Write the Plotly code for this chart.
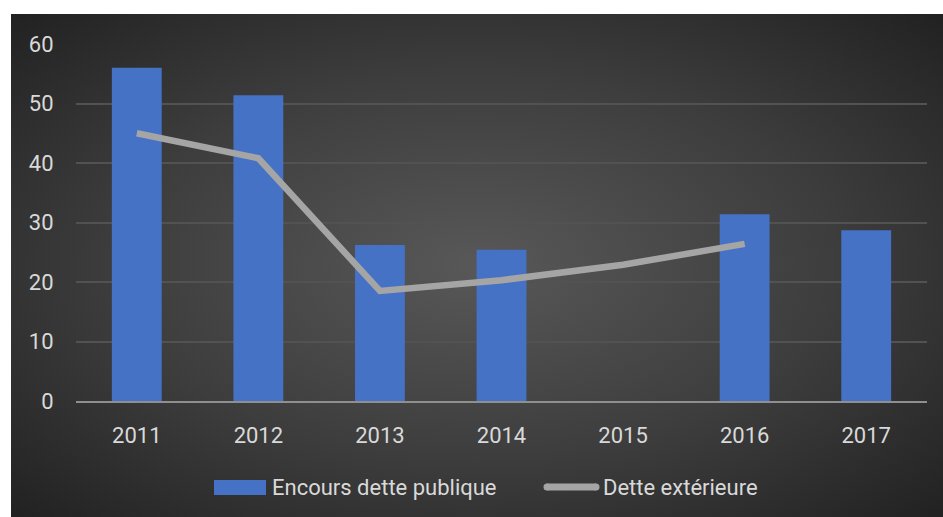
import base64
import plotly.graph_objects as go

# Data
years = ["2011", "2012", "2013", "2014", "2015", "2016", "2017"]
encours_dette_publique = [56.0, 51.4, 26.2, 25.4, None, 31.4, 28.7]
dette_exterieure = [45.0, 40.8, 18.5, 20.3, 22.9, 26.4, None]
y_ticks = [0, 10, 20, 30, 40, 50, 60]

W, H = 943, 517
L, R, T, B = 76, 16, 44, 116
PW, PH = W - L - R, H - T - B

def px_x(px):
    return (px - L) / PW

def px_y(py):
    return (H - B - py) / PH

TEXT = "#d9d9d9"
FONT = "Roboto, 'Open Sans', sans-serif"
BAR = "#4672c6"
LINE = "#a5a5a5"

# Dark radial background panel as an inline SVG
svg = (
    '<svg xmlns="http://www.w3.org/2000/svg" width="932" height="503" '
    'viewBox="0 0 932 503" preserveAspectRatio="none">'
    '<defs><radialGradient id="g" cx="50%" cy="50%" r="70%">'
    '<stop offset="0" stop-color="#585858"/>'
    '<stop offset="0.55" stop-color="#3d3d3d"/>'
    '<stop offset="1" stop-color="#222222"/>'
    '</radialGradient></defs>'
    '<rect width="932" height="503" fill="url(#g)"/></svg>'
)
bg_src = "data:image/svg+xml;base64," + base64.b64encode(svg.encode()).decode()

fig = go.Figure()

fig.add_trace(go.Bar(
    x=years, y=encours_dette_publique, name="Encours dette publique",
    marker=dict(color=BAR, line=dict(width=0)),
    width=0.41, showlegend=False,
))

fig.add_trace(go.Scatter(
    x=years, y=dette_exterieure, name="Dette extérieure",
    mode="lines", line=dict(color=LINE, width=6.5),
    connectgaps=False, showlegend=False,
))

fig.add_layout_image(dict(
    source=bg_src, xref="paper", yref="paper",
    x=px_x(11), y=px_y(14), sizex=px_x(943) - px_x(11), sizey=px_y(14) - px_y(517),
    xanchor="left", yanchor="top", sizing="stretch", layer="below",
))

# Legend drawn by hand below the axis
LEG_Y = 487
shapes = [
    dict(type="rect", xref="paper", yref="paper",
         x0=px_x(214), x1=px_x(266), y0=px_y(495), y1=px_y(480),
         fillcolor=BAR, line=dict(width=0)),
    dict(type="line", xref="paper", yref="paper",
         x0=px_x(547), x1=px_x(596), y0=px_y(LEG_Y), y1=px_y(LEG_Y),
         line=dict(color=LINE, width=7)),
    dict(type="circle", xref="paper", yref="paper",
         x0=px_x(543.5), x1=px_x(550.5), y0=px_y(LEG_Y + 3.5), y1=px_y(LEG_Y - 3.5),
         fillcolor=LINE, line=dict(width=0)),
    dict(type="circle", xref="paper", yref="paper",
         x0=px_x(592.5), x1=px_x(599.5), y0=px_y(LEG_Y + 3.5), y1=px_y(LEG_Y - 3.5),
         fillcolor=LINE, line=dict(width=0)),
]
annotations = [
    dict(text="Encours dette publique", xref="paper", yref="paper",
         x=px_x(270), y=px_y(LEG_Y), xanchor="left", yanchor="middle",
         showarrow=False, font=dict(family=FONT, size=22, color=TEXT)),
    dict(text="Dette extérieure", xref="paper", yref="paper",
         x=px_x(601), y=px_y(LEG_Y), xanchor="left", yanchor="middle",
         showarrow=False, font=dict(family=FONT, size=22, color=TEXT)),
]

fig.update_layout(
    width=W, height=H,
    margin=dict(l=L, r=R, t=T, b=B, pad=0),
    paper_bgcolor="white", plot_bgcolor="rgba(0,0,0,0)",
    font=dict(family=FONT, size=22, color=TEXT),
    shapes=shapes, annotations=annotations,
    bargap=0.59,
)
fig.update_xaxes(
    type="category", showgrid=False, zeroline=False,
    showline=True, linecolor="#8f8f8f", linewidth=2,
    ticks="outside", ticklen=14, tickcolor="rgba(0,0,0,0)",
    tickfont=dict(family=FONT, size=22, color=TEXT),
)
fig.update_yaxes(
    range=[0, 60], tickvals=y_ticks, showgrid=True,
    gridcolor="#525252", gridwidth=1.5, zeroline=False, showline=False,
    ticks="outside", ticklen=17, tickcolor="rgba(0,0,0,0)",
    tickfont=dict(family=FONT, size=22, color=TEXT),
)

fig.write_html("out.html")
